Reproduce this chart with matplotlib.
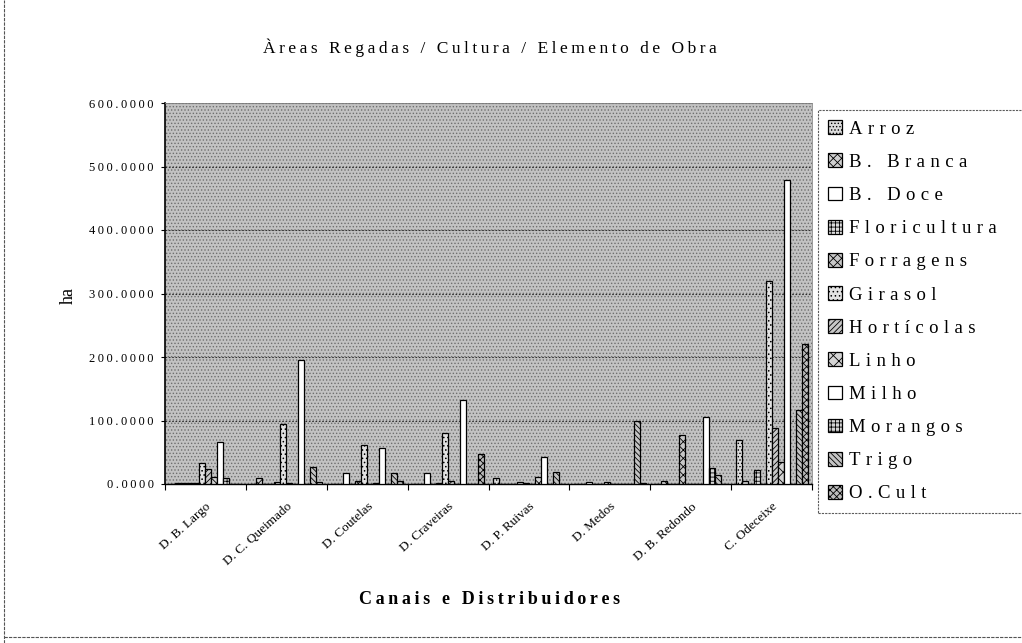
import matplotlib
matplotlib.use('Agg')
import matplotlib.pyplot as plt
import numpy as np
from matplotlib.patches import Rectangle
from matplotlib.lines import Line2D

plt.rcParams['font.family'] = ['Liberation Serif', 'DejaVu Serif']
plt.rcParams['hatch.linewidth'] = 0.6

categories = ['D. B. Largo', 'D. C. Queimado', 'D. Coutelas', 'D. Craveiras',
              'D. P. Ruivas', 'D. Medos', 'D. B. Redondo', 'C. Odeceixe']
series_names = ['Arroz', 'B. Branca', 'B. Doce', 'Floricultura', 'Forragens',
                'Girasol', 'Hortícolas', 'Linho', 'Milho', 'Morangos', 'Trigo', 'O.Cult']

arroz        = [0, 0, 0, 0, 9, 0, 0, 69]
b_branca     = [1, 10, 0, 0, 0, 0, 5, 5]
b_doce       = [2, 0, 17, 17, 0, 3, 0, 0]
floricultura = [1, 0, 0, 0, 0, 0, 0, 22]
forragens    = [2, 3, 4, 2, 3, 0, 77, 0]
girasol      = [33, 94, 61, 80, 2, 3, 0, 320]
horticolas   = [23, 2, 0, 5, 0, 0, 0, 88]
linho        = [11, 0, 2, 0, 11, 0, 0, 35]
milho        = [66, 195, 56, 133, 42, 0, 105, 478]
morangos     = [9, 0, 0, 0, 0, 0, 25, 0]
trigo        = [0, 27, 17, 0, 19, 100, 14, 116]
o_cult       = [0, 3, 5, 47, 0, 2, 0, 221]
series_values = [arroz, b_branca, b_doce, floricultura, forragens, girasol,
                 horticolas, linho, milho, morangos, trigo, o_cult]

yticks = [0, 100, 200, 300, 400, 500, 600]

hatches = ['.....', 'xxxx', '', '++++', 'xxxx', '....', '//////', 'xxx', '', '++++',
           '\\\\\\\\\\\\', 'xxxxx']
faces = ['#dcdcdc', '#d0d0d0', 'white', '#dcdcdc', '#c8c8c8', '#e2e2e2', '#c8c8c8',
         '#d4d4d4', 'white', '#d4d4d4', '#c4c4c4', '#bcbcbc']

def spaced(s, sep='\u2009'):
    return sep.join(list(s))

fig = plt.figure(figsize=(10.22, 6.43), dpi=100)
ax = fig.add_axes([165/1022, 1-484/643, (812-165)/1022, (484-103)/643])
ax.set_facecolor('#c2c2c2')
ax.add_patch(Rectangle((0, 0), 1, 1, transform=ax.transAxes, facecolor='none',
                       edgecolor='#6e6e6e', hatch='.....', lw=0, zorder=0.1))

n = len(categories)
m = len(series_names)
w = 1 / (m + 1.5)
x = np.arange(n)
handles = []
for j, (name, vals) in enumerate(zip(series_names, series_values)):
    pos = x - 0.5 + 0.75 * w + (j + 0.5) * w
    b = ax.bar(pos, vals, width=w, facecolor=faces[j], edgecolor='black',
               hatch=hatches[j], linewidth=0.9, zorder=3)
    handles.append(b)

ax.set_xlim(-0.5, n - 0.5)
ax.set_ylim(0, 600)
ax.set_yticks(yticks)
ax.set_yticklabels([spaced(f'{v:.4f}') for v in yticks], fontsize=9)
ax.yaxis.grid(True, color='#303030', linestyle=(0, (1.5, 1.5)), linewidth=0.8, zorder=0.5)
ax.set_axisbelow(True)

ax.set_xticks(np.arange(n + 1) - 0.5)
ax.set_xticklabels([''] * (n + 1))
ax.set_xticks(x, minor=True)
ax.set_xticklabels(categories, minor=True, rotation=42, ha='right',
                   rotation_mode='anchor', fontsize=9.5)
ax.tick_params(axis='x', which='minor', length=0, pad=12)
ax.tick_params(axis='x', which='major', length=4, direction='out')
ax.tick_params(axis='y', length=3, pad=5)
for side in ['top', 'right']:
    ax.spines[side].set_color('#888888')
    ax.spines[side].set_linewidth(0.6)
ax.spines['left'].set_linewidth(1.2)
ax.spines['bottom'].set_linewidth(1.0)

fig.text(490/1022, 1-48/643, spaced('Àreas Regadas / Cultura / Elemento de Obra'),
         fontsize=12.5, ha='center', va='center')
fig.text(490/1022, 1-600/643, spaced('Canais e Distribuidores'),
         fontsize=13, fontweight='bold', ha='center', va='center')
fig.text(68/1022, 1-295/643, 'ha', fontsize=13, rotation=90, ha='center', va='center')

leg_top = 1 - 110/643
leg_bottom = 1 - 512/643
leg = ax.legend(handles, [spaced(s, '\u2009\u200a') for s in series_names],
                loc='upper left',
                bbox_to_anchor=(818/1022, leg_bottom, 230/1022, leg_top - leg_bottom),
                mode='expand',
                bbox_transform=fig.transFigure, fontsize=13.5, frameon=True,
                fancybox=False, edgecolor='#333333', labelspacing=0.84,
                handlelength=0.75, handleheight=0.75, handletextpad=0.35,
                borderpad=0.55, borderaxespad=0)
leg.get_frame().set_linewidth(0.8)
leg.get_frame().set_linestyle((0, (2, 1)))

fig.add_artist(Line2D([4/1022, 4/1022], [0, 1], transform=fig.transFigure,
                      color='#555555', lw=0.8, linestyle=(0, (3, 1))))
fig.add_artist(Line2D([4/1022, 1], [6/643, 6/643], transform=fig.transFigure,
                      color='#555555', lw=0.8, linestyle=(0, (3, 1))))

fig.savefig('out.png', dpi=100)
